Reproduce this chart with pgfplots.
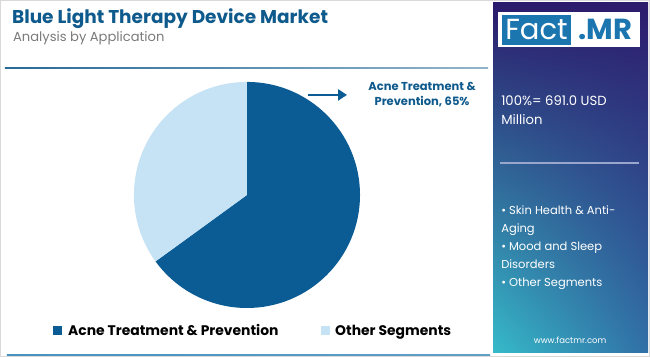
\documentclass[border=0pt]{standalone}
\usepackage{pgfplots}
\pgfplotsset{compat=1.18}
\usetikzlibrary{arrows.meta,shadings}
\usepackage{fontspec}
\setmainfont{Poppins}
\definecolor{darkslice}{HTML}{0B5C94}
\definecolor{lightslice}{HTML}{C6E2F5}
\definecolor{titleblue}{HTML}{0F5A8C}
\definecolor{subgray}{HTML}{7A7A7A}
\definecolor{ptopl}{HTML}{2B1A6B}
\definecolor{ptopr}{HTML}{2D1B6C}
\definecolor{pbotl}{HTML}{36BAC9}
\definecolor{pbotr}{HTML}{3170A6}
\definecolor{logoblue}{HTML}{1B76B0}
\definecolor{sepline}{HTML}{9AA6CC}
% data (share in %)
\def\acne{65}
\def\others{35}
\pgfmathsetmacro\endang{90-3.6*\acne}
\begin{document}
\begin{tikzpicture}
\begin{axis}[scale only axis, width=650pt, height=357pt,
  xmin=0, xmax=650, ymin=0, ymax=357, hide axis, clip=false]
% outer frame
\draw[black!15, line width=0.8pt] (axis cs:0.5,0.5) rectangle (axis cs:649.5,356.5);
% header
\node[anchor=base west, font=\bfseries\fontsize{18.5}{21}\selectfont, text=titleblue, inner sep=0pt] at (axis cs:12,333) {Blue Light Therapy Device Market};
\node[anchor=base west, font=\fontsize{13.1}{15}\selectfont, text=subgray, inner sep=0pt] at (axis cs:13,315) {Analysis by Application};
\shade[left color=titleblue!90, right color=titleblue!45] (axis cs:5,288.2) rectangle (axis cs:488,289.6);
\shade[left color=logoblue!80, right color=logoblue!70] (axis cs:7,1.2) rectangle (axis cs:490,2.8);
% pie
\fill[darkslice] (axis cs:247,162) -- (axis cs:247,275) arc[start angle=90, end angle=\endang, radius=113pt] -- cycle;
\fill[lightslice] (axis cs:247,162) -- (axis cs:247,275) arc[start angle=90, end angle=\endang+360, radius=113pt] -- cycle;
% callout
\draw[darkslice, line width=2.6pt, -{Triangle[length=9pt, width=11pt]}] (axis cs:308,262) -- (axis cs:347,262);
\node[align=center, font=\bfseries\fontsize{11.5}{15}\selectfont, text=titleblue] at (axis cs:422,262.5) {Acne Treatment \&\\Prevention, \acne\%};
% legend
\fill[darkslice] (axis cs:53,22) rectangle (axis cs:62,31);
\node[anchor=base west, font=\bfseries\fontsize{13.9}{16}\selectfont, inner sep=0pt] at (axis cs:68,21.5) {Acne Treatment \& Prevention};
\fill[lightslice] (axis cs:321,22) rectangle (axis cs:330,31);
\node[anchor=base west, font=\bfseries\fontsize{13.9}{16}\selectfont, inner sep=0pt] at (axis cs:335,21.5) {Other Segments};
% right panel
\shade[upper left=ptopl, upper right=ptopr, lower left=pbotl, lower right=pbotr] (axis cs:493,5) rectangle (axis cs:648,354);
\fill[white] (axis cs:498,310) rectangle (axis cs:640,345);
\fill[logoblue] (axis cs:502,312) rectangle (axis cs:571,342);
\node[text=white, font=\fontsize{29}{30}\selectfont, inner sep=0pt] at (axis cs:536.5,327.5) {Fact};
\node[text=logoblue, font=\bfseries\fontsize{29}{30}\selectfont, inner sep=0pt] at (axis cs:605,327.5) {.MR};
\node[anchor=base west, text=white, font=\fontsize{13.2}{16}\selectfont, inner sep=0pt] at (axis cs:501,251) {100\%= 691.0 USD};
\node[anchor=base west, text=white, font=\fontsize{13.2}{16}\selectfont, inner sep=0pt] at (axis cs:501,232) {Million};
\draw[sepline, line width=1.4pt] (axis cs:500,194) -- (axis cs:639,194);
\node[anchor=base west, text=white, font=\fontsize{11.5}{14}\selectfont, inner sep=0pt] at (axis cs:501,142) {• Skin Health \& Anti-};
\node[anchor=base west, text=white, font=\fontsize{11.5}{14}\selectfont, inner sep=0pt] at (axis cs:501,124) {Aging};
\node[anchor=base west, text=white, font=\fontsize{11.5}{14}\selectfont, inner sep=0pt] at (axis cs:501,106) {• Mood and Sleep};
\node[anchor=base west, text=white, font=\fontsize{11.5}{14}\selectfont, inner sep=0pt] at (axis cs:501,88) {Disorders};
\node[anchor=base west, text=white, font=\fontsize{11.5}{14}\selectfont, inner sep=0pt] at (axis cs:501,70) {• Other Segments};
\node[anchor=base, text=white, font=\fontsize{8.5}{10}\selectfont, inner sep=0pt] at (axis cs:570,14) {www.factmr.com};
\end{axis}
\end{tikzpicture}
\end{document}
